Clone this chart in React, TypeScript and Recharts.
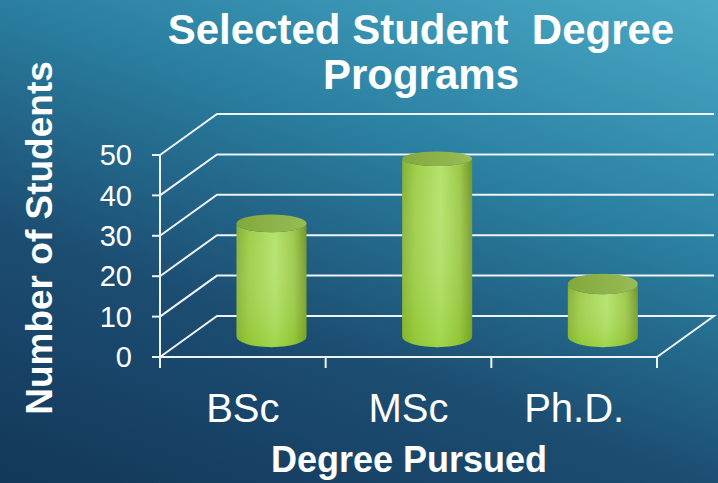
import { BarChart, Bar, XAxis, YAxis, CartesianGrid } from 'recharts'

const categories = ['BSc', 'MSc', 'Ph.D.']
const students = [28, 44, 13]
const yTicks = [0, 10, 20, 30, 40, 50]

const data = categories.map((name, i) => ({ name, value: students[i] }))

const W = 718
const H = 483
const MARGIN = { top: 155, right: 61, bottom: 66, left: 100 }
const Y_AXIS_W = 60
const X_AXIS_H = 60
const PLOT_LEFT = MARGIN.left + Y_AXIS_W
const PLOT_RIGHT = W - MARGIN.right
const PLOT_BOTTOM = H - MARGIN.bottom - X_AXIS_H
const BAND = (PLOT_RIGHT - PLOT_LEFT) / categories.length
// depth of the fake 3d box (back wall offset)
const DX = 57
const DY = -41
const FONT = '"Liberation Sans", Arial, sans-serif'
const LINE = '#eef3f6'

// horizontal grid line drawn as front-edge -> back wall -> across
function WallLine(props: any) {
  const { x1, y1, x2, y2, index } = props
  const pts = [
    [x1, y1],
    [x1 + DX, y1 + DY],
    [x2 + DX, y2 + DY],
  ]
  if (Math.abs(y1 - PLOT_BOTTOM) < 1) pts.push([x2, y2])
  return (
    <polyline
      key={`wall-${index}`}
      points={pts.map((p) => p.join(',')).join(' ')}
      fill="none"
      stroke={LINE}
      strokeWidth={2}
    />
  )
}

function Cylinder(props: any) {
  const { x, y, width, height, index } = props
  if (!height || height <= 0) return null
  const left = x + DX / 2
  const right = left + width
  const rx = width / 2
  const cx = left + rx
  const top = y + DY / 2
  const bottom = y + height + DY / 2
  const ryTop = 7 + (top - 150) * 0.025
  const ryBot = 6 + (bottom - 150) * 0.025
  const bodyId = `cyl-body-${index}`
  const shadeId = `cyl-shade-${index}`
  const topId = `cyl-top-${index}`
  const body = `M${left},${top} L${left},${bottom} A${rx},${ryBot} 0 0 0 ${right},${bottom} L${right},${top} A${rx},${ryTop} 0 0 1 ${left},${top} Z`
  return (
    <g>
      <defs>
        <linearGradient id={bodyId} x1="0" y1="0" x2="1" y2="0">
          <stop offset="0%" stopColor="#84af35" />
          <stop offset="18%" stopColor="#9dcc47" />
          <stop offset="55%" stopColor="#b3e36a" />
          <stop offset="82%" stopColor="#9bc846" />
          <stop offset="100%" stopColor="#6f9428" />
        </linearGradient>
        <linearGradient id={shadeId} x1="0" y1="0" x2="0" y2="1">
          <stop offset="0%" stopColor="#ffffff" stopOpacity={0} />
          <stop offset="100%" stopColor="#7dbd10" stopOpacity={0.35} />
        </linearGradient>
        <linearGradient id={topId} x1="0" y1="0" x2="1" y2="0">
          <stop offset="0%" stopColor="#82a83d" />
          <stop offset="100%" stopColor="#98bc54" />
        </linearGradient>
      </defs>
      <path d={body} fill={`url(#${bodyId})`} />
      <path d={body} fill={`url(#${shadeId})`} />
      <ellipse cx={cx} cy={top} rx={rx} ry={ryTop} fill={`url(#${topId})`} />
    </g>
  )
}

function CategoryTick(props: any) {
  const { x, payload, index } = props
  const edge = x - BAND / 2
  return (
    <g>
      <line x1={edge} y1={PLOT_BOTTOM} x2={edge} y2={PLOT_BOTTOM + 11} stroke={LINE} strokeWidth={2} />
      {index === categories.length - 1 && (
        <line x1={x + BAND / 2} y1={PLOT_BOTTOM} x2={x + BAND / 2} y2={PLOT_BOTTOM + 11} stroke={LINE} strokeWidth={2} />
      )}
      <text x={x} y={PLOT_BOTTOM + 65} textAnchor="middle" fill="#ffffff" fontSize={40} fontFamily={FONT}>
        {payload.value}
      </text>
    </g>
  )
}

export default function App() {
  return (
    <div
      style={{
        position: 'absolute',
        left: 0,
        top: 0,
        width: W,
        height: H,
        background: 'linear-gradient(20deg, #12375a 0%, #1c4e72 35%, #2a7fa0 65%, #4aaac6 100%)',
      }}
    >
      <BarChart width={W} height={H} data={data} margin={MARGIN}>
        <CartesianGrid vertical={false} horizontal={WallLine} />
        <XAxis
          dataKey="name"
          interval={0}
          height={X_AXIS_H}
          axisLine={{ stroke: LINE, strokeWidth: 2 }}
          tickLine={false}
          tick={CategoryTick}
        />
        <YAxis
          domain={[0, 50]}
          ticks={yTicks}
          width={Y_AXIS_W}
          axisLine={{ stroke: LINE, strokeWidth: 2 }}
          tickLine={{ stroke: LINE, strokeWidth: 2 }}
          tickSize={8}
          tickMargin={20}
          tick={{ fill: '#ffffff', fontSize: 29, fontFamily: FONT }}
        />
        <Bar dataKey="value" barSize={70} shape={Cylinder} isAnimationActive={false} />
      </BarChart>
      <svg
        width={W}
        height={H}
        style={{ position: 'absolute', left: 0, top: 0, pointerEvents: 'none' }}
        fontFamily={FONT}
        fontWeight="bold"
        fill="#ffffff"
      >
        <text x={421} y={44} fontSize={42} textAnchor="middle" style={{ whiteSpace: 'pre' }}>
          Selected Student  Degree
        </text>
        <text x={421} y={89} fontSize={42} textAnchor="middle">
          Programs
        </text>
        <text transform="translate(52,238) rotate(-90)" fontSize={37} textAnchor="middle">
          Number of Students
        </text>
        <text x={409} y={472} fontSize={36} textAnchor="middle">
          Degree Pursued
        </text>
      </svg>
    </div>
  )
}
